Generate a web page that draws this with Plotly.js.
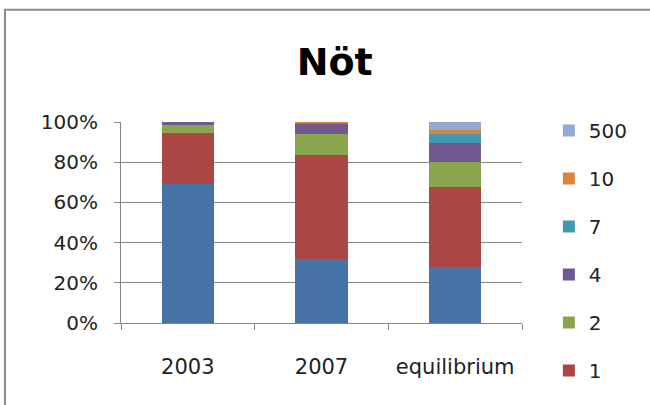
<!DOCTYPE html>
<html>
<head>
<meta charset="utf-8">
<script src="https://cdn.plot.ly/plotly-3.0.1.min.js"></script>
<style>html,body{margin:0;padding:0;background:#fff;}#chart{width:650px;height:405px;}</style>
</head>
<body>
<div id="chart"></div>
<script>
const categories = ["2003", "2007", "equilibrium"];
const seriesNames = ["0", "1", "2", "4", "7", "10", "500"];
const s0 = [69.2, 31.6, 27.7];
const s1 = [25.5, 52.0, 39.9];
const s2 = [3.8, 10.4, 12.3];
const s4 = [1.5, 4.8, 9.7];
const s7 = [0.0, 0.5, 4.3];
const s10 = [0.0, 0.5, 2.0];
const s500 = [0.0, 0.2, 4.1];
const seriesValues = [s0, s1, s2, s4, s7, s10, s500];
const colors = ["#4573A7", "#AA4643", "#89A54E", "#71588F", "#4198AF", "#DB843D", "#93A9CF"];
const yTickVals = [0, 20, 40, 60, 80, 100];
const yTickText = ["0%", "20%", "40%", "60%", "80%", "100%"];

const FONT = "DejaVu Sans, sans-serif";
const traces = seriesNames.map((n, i) => ({
  type: "bar",
  name: n,
  x: categories,
  y: seriesValues[i],
  marker: {color: colors[i]},
  legendgroup: "g" + i,
  legendrank: seriesNames.length - i,
  showlegend: i !== 0,
  hoverinfo: "none"
}));

const layout = {
  width: 650, height: 405,
  margin: {l: 121, r: 128, t: 121.5, b: 82},
  paper_bgcolor: "#fff", plot_bgcolor: "#fff",
  barmode: "stack",
  bargap: 0.61,
  showlegend: true,
  font: {family: FONT, color: "#222"},
  title: {text: "<b>Nöt</b>", font: {family: FONT, size: 38, color: "#000"},
          x: 0.515, xanchor: "center", xref: "container", y: 0.847, yanchor: "middle", yref: "container"},
  xaxis: {
    type: "category", showgrid: false, showline: true, linecolor: "#868686", linewidth: 1,
    ticks: "outside", tickson: "boundaries", ticklen: 6, tickcolor: "#868686",
    tickfont: {family: FONT, size: 21, color: "#222"}, ticklabelstandoff: 25,
    fixedrange: true
  },
  yaxis: {
    range: [0, 100], tickvals: yTickVals, ticktext: yTickText,
    showgrid: true, gridcolor: "#868686", gridwidth: 1,
    showline: true, linecolor: "#868686", linewidth: 1, zeroline: false,
    ticks: "outside", ticklen: 6, tickcolor: "#868686",
    tickfont: {family: FONT, size: 20, color: "#222"}, ticklabelstandoff: 12,
    fixedrange: true
  },
  legend: {
    x: 1.067, xanchor: "left", y: 1.055, yanchor: "top",
    traceorder: "grouped", tracegroupgap: 19, maxheight: 400,
    font: {family: FONT, size: 20, color: "#222"},
    bgcolor: "rgba(0,0,0,0)"
  },
  shapes: [{
    type: "rect", xref: "paper", yref: "paper",
    x0: (5 - 121) / 401, x1: (700 - 121) / 401,
    y0: (323 - 460) / 201.5, y1: (323 - 9) / 201.5,
    line: {color: "#8C8C8C", width: 2}, fillcolor: "rgba(0,0,0,0)", layer: "below"
  }]
};

Plotly.newPlot("chart", traces, layout, {displayModeBar: false, staticPlot: true});
</script>
</body>
</html>
